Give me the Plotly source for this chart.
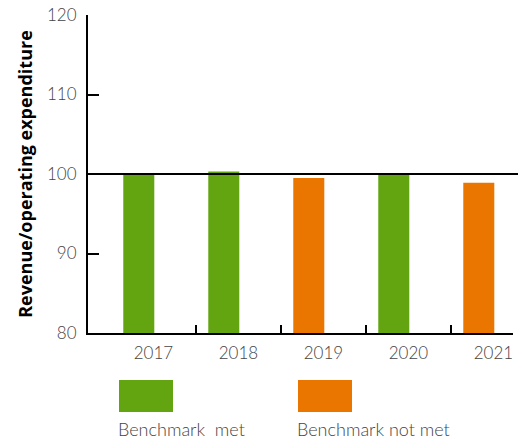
import plotly.graph_objects as go

years = ["2017", "2018", "2019", "2020", "2021"]
values = [100.1, 100.3, 99.5, 100.1, 98.9]
met = [True, True, False, True, False]
benchmark = 100
legend_labels = ["Benchmark  met", "Benchmark not met"]
y_ticks = [80, 90, 100, 110, 120]

GREEN = "#62A510"
ORANGE = "#EA7600"
FONT = "Lato"
GREY = "#444444"

xpos = list(range(len(years)))
colors = [GREEN if m else ORANGE for m in met]

fig = go.Figure()
fig.add_trace(go.Bar(x=xpos, y=values, marker=dict(color=colors, line=dict(width=0)),
                     width=0.365, offset=-0.355, showlegend=False, hoverinfo="skip"))
# invisible trace carrying the boundary-tick axis
fig.add_trace(go.Scatter(x=[0], y=[80], xaxis="x2", mode="markers",
                         marker=dict(opacity=0), showlegend=False, hoverinfo="skip"))

tick_font = dict(family=FONT, size=17, color=GREY, weight=300)
legend_font = dict(family=FONT, size=18, color=GREY, weight=300)

xr = [-0.77, 4.23]
fig.update_layout(
    width=518, height=441,
    margin=dict(l=88, r=5, t=15, b=108),
    paper_bgcolor="white", plot_bgcolor="white",
    font=dict(family=FONT, size=16, color=GREY),
    xaxis=dict(range=xr, tickvals=xpos, ticktext=years, ticks="", showgrid=False,
               zeroline=False, showline=True, linecolor="black", linewidth=2,
               tickfont=tick_font, ticklabelstandoff=4),
    xaxis2=dict(range=xr, overlaying="x", anchor="y", side="bottom",
                tickvals=[0.5, 1.5, 2.5, 3.5], showticklabels=False,
                ticks="inside", ticklen=8, tickwidth=2, tickcolor="black",
                showgrid=False, zeroline=False, showline=False),
    yaxis=dict(range=[80, 120], tickvals=y_ticks, ticks="inside", ticklen=11,
               tickwidth=2, tickcolor="black", showgrid=False, zeroline=False,
               showline=True, linecolor="black", linewidth=2,
               tickfont=tick_font, ticklabelstandoff=6,
               title=dict(text="<b>Revenue/operating expenditure</b>",
                          font=dict(family="Open Sans", size=18, color="black"), standoff=10)),
)

# benchmark line
fig.add_shape(type="line", xref="paper", yref="y", x0=0, x1=1.02, y0=benchmark, y1=benchmark,
              line=dict(color="black", width=2.2))

# legend swatches
W = 425.0
H = 318.0
def px_x(p):
    return (p - 88) / W
def px_y(p):
    return (333 - p) / H

for col, x0, lab in [(GREEN, 119, legend_labels[0]), (ORANGE, 298, legend_labels[1])]:
    fig.add_shape(type="rect", xref="paper", yref="paper",
                  x0=px_x(x0), x1=px_x(x0 + 54), y0=px_y(412), y1=px_y(380),
                  fillcolor=col, line=dict(width=0))
    fig.add_annotation(xref="paper", yref="paper", x=px_x(x0 - 3), y=px_y(429),
                       text=lab.replace("  ", "&nbsp; "), showarrow=False, xanchor="left", yanchor="middle",
                       font=legend_font)

fig.write_html("out.html", config={"displayModeBar": False},
               post_script="document.body.style.margin='0';")
